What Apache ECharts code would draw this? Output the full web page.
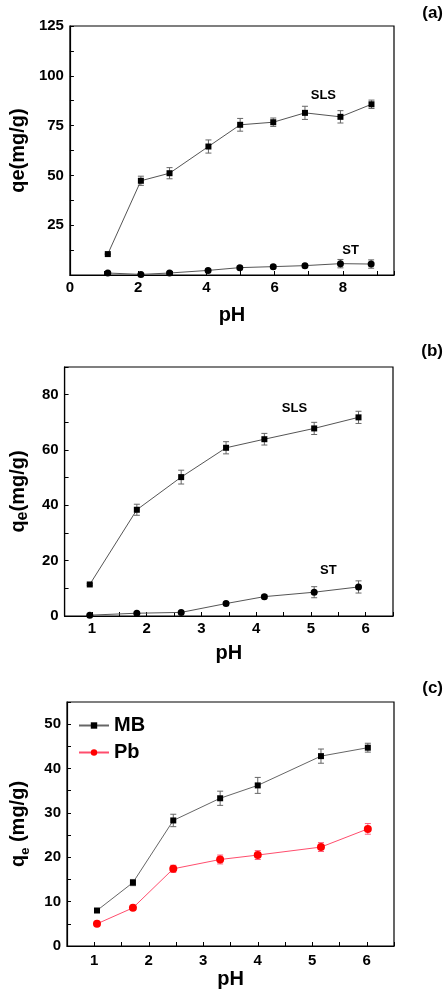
<!DOCTYPE html>
<html>
<head>
<meta charset="utf-8">
<script src="https://cdn.jsdelivr.net/npm/echarts@6/dist/echarts.min.js"></script>
<style>
html,body{margin:0;padding:0;background:#fff;}
#chart{width:448px;height:992px;}
</style>
</head>
<body>
<div id="chart"></div>
<script>
// ---------- Panel (a) ----------
const phA_SLS = [1.11, 2.08, 2.92, 4.06, 4.99, 5.96, 6.89, 7.93, 8.84];
const qeA_SLS = [10.5, 47.3, 51.1, 64.5, 75.4, 76.7, 81.4, 79.4, 85.7];
const errA_SLS = [0, 2.3, 2.8, 3.3, 3.2, 2.1, 3.3, 3.1, 2.1];
const phA_ST = [1.11, 2.08, 2.92, 4.05, 4.98, 5.96, 6.89, 7.93, 8.83];
const qeA_ST = [1.0, 0.3, 1.0, 2.3, 3.7, 4.2, 4.7, 5.7, 5.5];
const errA_ST = [0.5, 0.3, 0.5, 0.7, 0.8, 0.8, 0.8, 2.1, 2.1];
const yTicksA = [25, 50, 75, 100, 125];
const xTicksA = [0, 2, 4, 6, 8];
const notesA = [[7.43, 90.4, 'SLS'], [8.23, 12.2, 'ST']];

// ---------- Panel (b) ----------
const phB = [0.96, 1.82, 2.63, 3.45, 4.15, 5.06, 5.87];
const qeB_SLS = [11.4, 38.4, 50.2, 60.8, 63.9, 67.8, 71.8];
const errB_SLS = [0.3, 2.0, 2.5, 2.2, 2.1, 2.2, 2.2];
const qeB_ST = [0.3, 1.0, 1.3, 4.5, 7.0, 8.6, 10.5];
const errB_ST = [0.3, 0.4, 0.4, 0.6, 0.6, 2.0, 2.2];
const yTicksB = [0, 20, 40, 60, 80];
const xTicksBC = [1, 2, 3, 4, 5, 6];
const notesB = [[4.7, 74.9, 'SLS'], [5.32, 16.6, 'ST']];

// ---------- Panel (c) ----------
const phC = [1.05, 1.71, 2.45, 3.31, 4.0, 5.16, 6.02];
const qeC_MB = [8.0, 14.3, 28.3, 33.3, 36.2, 42.8, 44.7];
const errC_MB = [0.4, 0.7, 1.4, 1.6, 1.8, 1.6, 1.0];
const qeC_Pb = [5.0, 8.6, 17.4, 19.5, 20.5, 22.3, 26.4];
const errC_Pb = [0.3, 0.4, 0.8, 1.0, 1.0, 1.0, 1.2];
const yTicksC = [0, 10, 20, 30, 40, 50];

const FONT = "'Liberation Sans', Arial, Helvetica, sans-serif";

function pairs(xs, ys) { return xs.map((x, i) => [x, ys[i]]); }

function errSeries(idx, xs, ys, es, color) {
  return {
    type: 'custom', xAxisIndex: idx, yAxisIndex: idx, z: 2, silent: true,
    data: xs.map((x, i) => [x, ys[i], es[i]]),
    encode: { x: 0, y: 1 },
    renderItem: function (params, api) {
      const x = api.value(0), y = api.value(1), e = api.value(2);
      const lo = api.coord([x, y - e]);
      const hi = api.coord([x, y + e]);
      const w = 3;
      const st = { stroke: color, lineWidth: 1 };
      return {
        type: 'group',
        children: [
          { type: 'line', shape: { x1: lo[0], y1: lo[1], x2: hi[0], y2: hi[1] }, style: st },
          { type: 'line', shape: { x1: lo[0] - w, y1: lo[1], x2: lo[0] + w, y2: lo[1] }, style: st },
          { type: 'line', shape: { x1: hi[0] - w, y1: hi[1], x2: hi[0] + w, y2: hi[1] }, style: st }
        ]
      };
    }
  };
}

function lineSeries(idx, name, xs, ys, symbol, size, markColor, lineColor) {
  return {
    type: 'line', name: name, xAxisIndex: idx, yAxisIndex: idx, z: 3,
    data: pairs(xs, ys), symbol: symbol, symbolSize: size, showSymbol: true,
    itemStyle: { color: markColor }, lineStyle: { color: lineColor, width: 1 },
    emphasis: { disabled: true }, animation: false
  };
}

function noteSeries(idx, notes) {
  return {
    type: 'scatter', xAxisIndex: idx, yAxisIndex: idx, z: 4, symbolSize: 0, silent: true,
    data: notes,
    itemStyle: { opacity: 1, color: '#000' },
    emphasis: { disabled: true },
    label: {
      show: true, position: 'inside', formatter: p => p.value[2],
      color: '#000', opacity: 1, fontSize: 13, fontWeight: 'bold', fontFamily: FONT,
      textBorderWidth: 0
    }
  };
}

function xAxis(idx, min, max, interval, ticks, margin, nameGap) {
  return {
    type: 'value', gridIndex: idx, min: min, max: max, interval: interval,
    name: 'pH', nameLocation: 'middle', nameGap: nameGap,
    nameTextStyle: { fontSize: 20, fontWeight: 'bold', fontFamily: FONT, color: '#000' },
    axisLine: { show: true, onZero: false, lineStyle: { color: '#000', width: 1.2 } },
    axisTick: { show: true, inside: true, length: 4, lineStyle: { color: '#000', width: 1 } },
    axisLabel: {
      margin: margin, color: '#000', fontSize: 15, fontWeight: 'bold', fontFamily: FONT,
      formatter: v => (ticks.some(t => Math.abs(t - v) < 1e-6) ? String(v) : ''),
      showMinLabel: true, showMaxLabel: true, hideOverlap: false
    },
    splitLine: { show: false }
  };
}

function yAxis(idx, min, max, interval, ticks, name, nameGap) {
  return {
    type: 'value', gridIndex: idx, min: min, max: max, interval: interval,
    name: name, nameLocation: 'middle', nameGap: nameGap, nameRotate: 90,
    nameTextStyle: {
      fontSize: 20, fontWeight: 'bold', fontFamily: FONT, color: '#000',
      rich: {
        q: { fontSize: 20, fontWeight: 'bold', fontFamily: FONT, color: '#000' },
        s: { fontSize: 16, fontWeight: 'bold', fontFamily: FONT, color: '#000', verticalAlign: 'bottom', padding: [0, 0, -3, 0] },
        t: { fontSize: 13, fontWeight: 'bold', fontFamily: FONT, color: '#000', verticalAlign: 'bottom', padding: [0, 0, -4, 0] }
      }
    },
    axisLine: { show: true, onZero: false, lineStyle: { color: '#000', width: 1.2 } },
    axisTick: { show: true, inside: true, length: 4, lineStyle: { color: '#000', width: 1 } },
    axisLabel: {
      margin: 6, color: '#000', fontSize: 15, fontWeight: 'bold', fontFamily: FONT,
      formatter: v => (ticks.some(t => Math.abs(t - v) < 1e-6) ? String(v) : ''),
      showMinLabel: true, showMaxLabel: true, hideOverlap: false
    },
    splitLine: { show: false }
  };
}

const chart = echarts.init(document.getElementById('chart'), null, { renderer: 'canvas' });

const gridBase = { show: true, borderColor: '#000', borderWidth: 1.2, backgroundColor: 'transparent' };
const titleStyle = { fontSize: 17, fontWeight: 'bold', fontFamily: FONT, color: '#000' };

chart.setOption({
  animation: false,
  backgroundColor: '#fff',
  title: [
    { text: '(a)', right: 0, top: 0, textStyle: titleStyle },
    { text: '(b)', right: 0, top: 338, textStyle: titleStyle },
    { text: '(c)', right: 0, top: 675, textStyle: titleStyle }
  ],
  grid: [
    Object.assign({ left: 60, top: 26, width: 334, height: 249 }, gridBase),
    Object.assign({ left: 60, top: 367, width: 333, height: 249 }, gridBase),
    Object.assign({ left: 61, top: 702, width: 333, height: 244 }, gridBase)
  ],
  legend: {
    data: ['MB', 'Pb'], orient: 'vertical', left: 73, top: 710,
    itemWidth: 30, itemHeight: 8, itemGap: 6,
    textStyle: { fontSize: 20, fontWeight: 'bold', fontFamily: FONT, color: '#000', lineHeight: 21 },
    selectedMode: false
  },
  xAxis: [
    xAxis(0, 0, 9.5, 1, xTicksA, 5, 30),
    xAxis(1, 0.5, 6.5, 0.5, xTicksBC, 5, 27),
    xAxis(2, 0.5, 6.5, 0.5, xTicksBC, 7, 23)
  ],
  yAxis: [
    yAxis(0, 0, 125, 12.5, yTicksA, 'qe(mg/g)', 37),
    yAxis(1, 0, 90, 10, yTicksB, '{q|q}{s|e}{q|(mg/g)}', 32),
    yAxis(2, 0, 55, 5, yTicksC, '{q|q}{t|e}{q| (mg/g)}', 39)
  ],
  series: [
    errSeries(0, phA_SLS, qeA_SLS, errA_SLS, '#666'),
    errSeries(0, phA_ST, qeA_ST, errA_ST, '#666'),
    lineSeries(0, 'SLS-a', phA_SLS, qeA_SLS, 'rect', 6, '#000', '#555'),
    lineSeries(0, 'ST-a', phA_ST, qeA_ST, 'circle', 7, '#000', '#555'),
    noteSeries(0, notesA),

    errSeries(1, phB, qeB_SLS, errB_SLS, '#666'),
    errSeries(1, phB, qeB_ST, errB_ST, '#666'),
    lineSeries(1, 'SLS-b', phB, qeB_SLS, 'rect', 6, '#000', '#555'),
    lineSeries(1, 'ST-b', phB, qeB_ST, 'circle', 7, '#000', '#555'),
    noteSeries(1, notesB),

    errSeries(2, phC, qeC_MB, errC_MB, '#666'),
    errSeries(2, phC, qeC_Pb, errC_Pb, '#ff5a7a'),
    lineSeries(2, 'MB', phC, qeC_MB, 'rect', 6, '#000', '#666'),
    lineSeries(2, 'Pb', phC, qeC_Pb, 'circle', 8, '#ff0000', '#ff4d6d')
  ]
});
</script>
</body>
</html>
